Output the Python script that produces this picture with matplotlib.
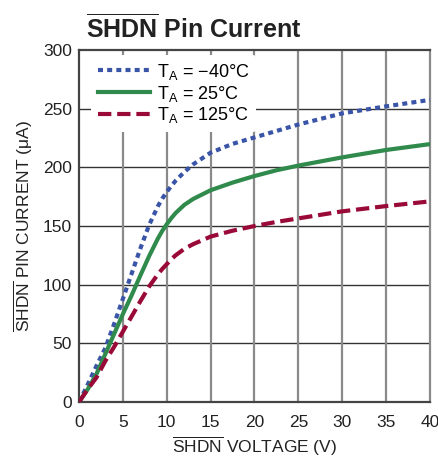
import matplotlib
matplotlib.use("Agg")
import matplotlib.pyplot as plt

font = 'Liberation Sans'
plt.rcParams['font.family'] = [font, 'DejaVu Sans']
plt.rcParams['mathtext.fontset'] = 'custom'
plt.rcParams['mathtext.rm'] = font
plt.rcParams['mathtext.bf'] = font + ':bold'
plt.rcParams['mathtext.it'] = font

voltage = [0, 1, 2, 3, 4, 5, 6, 7, 8, 9, 9.5, 10, 10.5, 11, 12, 13, 15, 17.5, 20, 22.5, 25, 30, 35, 40]
i_m40 = [0, 15, 31, 46, 66.5, 88, 109.5, 131, 151, 167, 173.5, 179, 184, 188.5, 196, 202.5, 212.5, 220, 225.5, 231, 236.5, 246, 252, 257.5]
i_25 = [0, 11, 24, 41, 58, 75, 91, 108, 124.5, 139.5, 146, 151.5, 156.5, 161, 168, 173, 180.5, 187, 192.6, 197.5, 201.5, 208.5, 214.8, 219.8]
i_125 = [0, 11, 21, 35, 47, 60, 73, 86, 98.5, 109, 113.5, 117.5, 121.5, 125, 130.5, 134.5, 141, 146, 150, 153.5, 156.5, 162.5, 167, 171]
labels = [r'T$_\mathrm{A}$ = −40°C', r'T$_\mathrm{A}$ = 25°C', r'T$_\mathrm{A}$ = 125°C']
xticks = [0, 5, 10, 15, 20, 25, 30, 35, 40]
yticks = [0, 50, 100, 150, 200, 250, 300]

fig = plt.figure(figsize=(4.38, 4.63), dpi=100)
ax = fig.add_axes([0.1804, 0.1317, 0.8013, 0.7603])

for y in yticks[1:-1]:
    ax.axhline(y, color='#333333', lw=1.0, zorder=1)
for x in xticks[1:-1]:
    ax.axvline(x, color='#8a8a8a', lw=1.6, zorder=1)

ax.plot(voltage, i_m40, color='#3a55a8', lw=3, linestyle=(0, (1.2, 1.0)), label=labels[0], zorder=3)
ax.plot(voltage, i_25, color='#2f8a4c', lw=3, linestyle='-', label=labels[1], zorder=3)
ax.plot(voltage, i_125, color='#9a0a38', lw=3, linestyle=(0, (3.2, 1.4)), label=labels[2], zorder=3)

ax.set_xlim(0, 40)
ax.set_ylim(0, 300)
ax.set_xticks(xticks)
ax.set_yticks(yticks)
ax.tick_params(axis='x', length=0, labelsize=12.5, pad=9, colors='#222222')
ax.tick_params(axis='y', length=0, labelsize=12.5, pad=5, colors='#222222')
for s in ax.spines.values():
    s.set_color('#444444')
    s.set_linewidth(1.6)
ax.spines['right'].set_color('#8a8a8a')

ax.set_xlabel(r'$\overline{\mathrm{SHDN}}$ VOLTAGE (V)', fontsize=12.5, color='#222222', labelpad=4)
ax.set_ylabel(r'$\overline{\mathrm{SHDN}}$ PIN CURRENT (μA)', fontsize=12.5, color='#222222', labelpad=6)

leg = ax.legend(loc='upper left', bbox_to_anchor=(0.02, 1.0), frameon=True, fontsize=13,
                handlelength=2.9, handletextpad=0.4, labelspacing=0.1, borderpad=0.35,
                borderaxespad=0.3)
leg.get_frame().set_facecolor('white')
leg.get_frame().set_edgecolor('none')
leg.get_frame().set_alpha(1)
leg.set_zorder(5)

fig.text(0.196, 0.94, r'$\mathbf{\overline{SHDN}}$ Pin Current', fontsize=18, fontweight='bold',
         color='#222222', ha='left', va='center')

fig.savefig('out.png', dpi=100, facecolor='white')
